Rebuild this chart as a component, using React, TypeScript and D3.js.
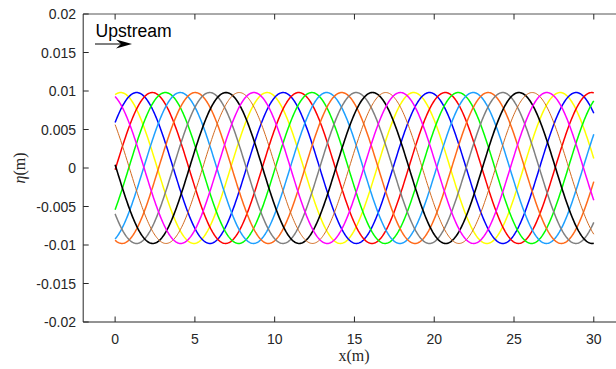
import React from 'react';
import * as d3 from 'd3';

// Axis ticks
const xTicks = [0, 5, 10, 15, 20, 25, 30];
const xTickLabels = ['0', '5', '10', '15', '20', '25', '30'];
const yTicks = [-0.02, -0.015, -0.01, -0.005, 0, 0.005, 0.01, 0.015, 0.02];
const yTickLabels = ['-0.02', '-0.015', '-0.01', '-0.005', '0', '0.005', '0.01', '0.015', '0.02'];

// Wave snapshots: colour and position of first crest (m)
const seriesColors = ['#ffff00', '#0000ff', '#ff0000', '#00ff00', '#1ea0ff', '#ff6a1a', '#808080', '#000000', '#d2691e', '#ff00ff'];
const seriesWidths = [1.5, 1.5, 1.5, 1.5, 1.5, 1.5, 1.5, 1.6, 1.0, 1.5];
const crestPositions = [0.35, 1.35, 2.33, 3.15, 4.08, 5.02, 5.93, 6.95, 7.78, 8.7];
const amplitude = 0.0098; // m
const wavelength = 9.18; // m
const xExtent = [0, 30];

const W = 616;
const H = 369;

export default function App() {
  const x = d3.scaleLinear().domain([-2, 32]).range([83.2, 625.7]);
  const y = d3.scaleLinear().domain([-0.02, 0.02]).range([322, 14]);
  const xs = d3.range(xExtent[0], xExtent[1] + 1e-9, 0.05);
  const line = d3
    .line<[number, number]>()
    .x((d) => x(d[0]))
    .y((d) => y(d[1]));

  const series = crestPositions.map((c) =>
    xs.map((xv) => [xv, amplitude * Math.cos((2 * Math.PI * (xv - c)) / wavelength)] as [number, number])
  );

  const axisColor = '#262626';
  const left = x(-2);
  const right = x(32);
  const top = y(0.02);
  const bottom = y(-0.02);
  const tickLen = 5.5;
  const font = 'Liberation Sans, Arial, Helvetica, sans-serif';

  return (
    <svg
      width={W}
      height={H}
      style={{ position: 'absolute', left: 0, top: 0, background: '#fff' }}
      xmlns="http://www.w3.org/2000/svg"
    >
      <rect x={0} y={0} width={W} height={H} fill="#fff" />
      <g>
        {series.map((s, i) => (
          <path
            key={i}
            d={line(s) || ''}
            fill="none"
            stroke={seriesColors[i]}
            strokeWidth={seriesWidths[i]}
            strokeLinejoin="round"
          />
        ))}
      </g>
      {/* box */}
      <line x1={left} x2={right} y1={top} y2={top} stroke="#555" strokeWidth={1} />
      <line x1={left} x2={right} y1={bottom} y2={bottom} stroke={axisColor} strokeWidth={1} />
      <line x1={left} x2={left} y1={top} y2={bottom} stroke={axisColor} strokeWidth={1} />
      {/* x ticks */}
      {xTicks.map((t, i) => (
        <g key={'xt' + i}>
          <line x1={x(t)} x2={x(t)} y1={bottom} y2={bottom - tickLen} stroke={axisColor} strokeWidth={1} />
          <line x1={x(t)} x2={x(t)} y1={top} y2={top + tickLen} stroke={axisColor} strokeWidth={1} />
          <text x={x(t)} y={344} textAnchor="middle" fontFamily={font} fontSize={14} fill={axisColor}>
            {xTickLabels[i]}
          </text>
        </g>
      ))}
      {/* y ticks */}
      {yTicks.map((t, i) => (
        <g key={'yt' + i}>
          <line x1={left} x2={left + tickLen} y1={y(t)} y2={y(t)} stroke={axisColor} strokeWidth={1} />
          <text x={76} y={y(t) + 5} textAnchor="end" fontFamily={font} fontSize={14} fill={axisColor}>
            {yTickLabels[i]}
          </text>
        </g>
      ))}
      {/* axis labels */}
      <text x={354} y={361} textAnchor="middle" fontFamily="Liberation Serif, Times New Roman, serif" fontSize={16} fill={axisColor}>
        x(m)
      </text>
      <text
        transform={`translate(25, ${y(0)}) rotate(-90)`}
        textAnchor="middle"
        fontFamily="Liberation Serif, Times New Roman, serif"
        fontSize={16}
        fill={axisColor}
      >
        <tspan fontStyle="italic">η</tspan>(m)
      </text>
      {/* annotation */}
      <text x={95.5} y={37} fontFamily={font} fontSize={17.6} fill="#000">
        Upstream
      </text>
      <line x1={95} x2={124} y1={44} y2={44} stroke="#000" strokeWidth={1} />
      <polygon points="132,44 116,39.5 121,44 116,48.5" fill="#000" />
    </svg>
  );
}
